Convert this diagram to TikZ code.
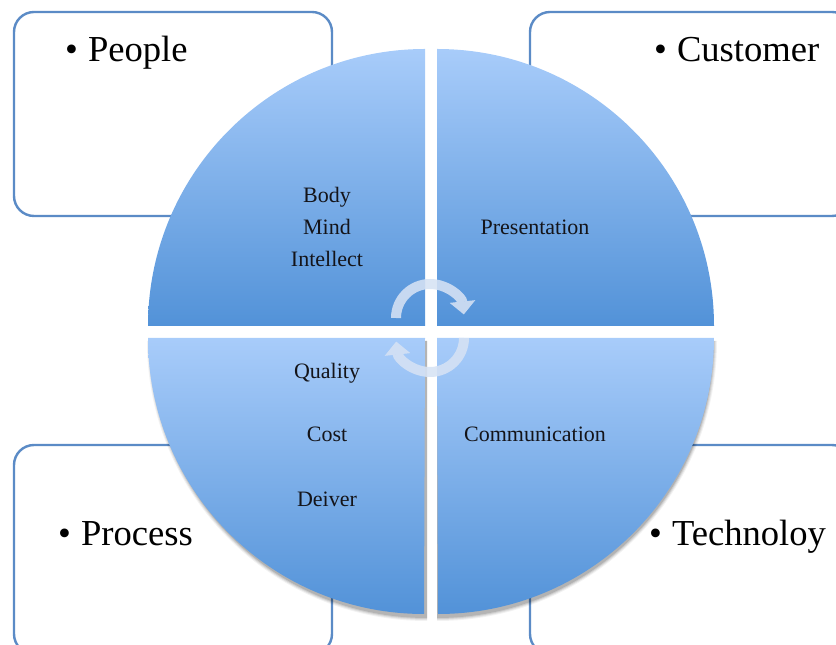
\documentclass[tikz,border=0pt]{standalone}
\usepackage{fontspec}
\setmainfont{Liberation Serif}
\usetikzlibrary{arrows.meta}
\definecolor{qtop}{RGB}{168,204,250}
\definecolor{qbot}{RGB}{82,146,216}
\definecolor{boxline}{RGB}{91,139,198}
\definecolor{arrowc}{RGB}{214,226,244}
\definecolor{qtext}{RGB}{20,20,25}
\tikzset{
  cornerbox/.style={draw=boxline, line width=2.4pt, rounded corners=20pt, fill=white},
  quad/.style={top color=qtop, bottom color=qbot},
  smalltxt/.style={anchor=base, inner sep=0pt, text=qtext, font=\fontsize{22}{26}\selectfont},
  bigtxt/.style={anchor=base west, inner sep=0pt, text=black, font=\fontsize{36.6}{40}\selectfont},
  cyclearrow/.style={draw=arrowc, line width=10pt, -{Triangle[width=25pt,length=13pt]}},
}
\begin{document}
\begin{tikzpicture}[x=1pt,y=1pt]
\useasboundingbox (0,0) rectangle (836,645);
% corner boxes
\draw[cornerbox] (14,633) rectangle (332,429);
\draw[cornerbox] (530,633) rectangle (852,429);
\draw[cornerbox] (14,200) rectangle (332,-9);
\draw[cornerbox] (530,200) rectangle (852,-9);
% shadows of lower quadrants
\foreach \r/\o in {280/0.05,279/0.07,278/0.09,277/0.12}{
  \fill[black, opacity=\o] (427,304) -- ++(-\r,0) arc[start angle=180,end angle=270,radius=\r] -- cycle;
  \fill[black, opacity=\o] (437,304) -- ++(\r,0) arc[start angle=0,end angle=-90,radius=\r] -- cycle;
}
% quadrants
\shade[quad] (425,319) -- ++(-277,0) arc[start angle=180,end angle=90,radius=277] -- cycle;
\shade[quad] (437,319) -- ++(0,277) arc[start angle=90,end angle=0,radius=277] -- cycle;
\shade[quad] (425,307) -- ++(-277,0) arc[start angle=180,end angle=270,radius=276] -- cycle;
\shade[quad] (437,307) -- ++(277,0) arc[start angle=0,end angle=-90,radius=276] -- cycle;
% quadrant texts
\node[smalltxt] (body) at (327,442) {Body};
\node[smalltxt] (mind) at (327,410) {Mind};
\node[smalltxt] (intellect) at (327,378) {Intellect};
\node[smalltxt] (presentation) at (535,410) {Presentation};
\node[smalltxt] (quality) at (327,266) {Quality};
\node[smalltxt] (cost) at (327,203) {Cost};
\node[smalltxt] (deiver) at (327,138) {Deiver};
\node[smalltxt] (communication) at (535,203) {Communication};
% corner labels
\node[bigtxt] (people) at (65,583) {•\hspace{10pt}People};
\node[bigtxt] (customer) at (654,583) {•\hspace{10pt}Customer};
\node[bigtxt] (process) at (58,99) {•\hspace{10pt}Process};
\node[bigtxt] (technoloy) at (649,99) {•\hspace{10pt}Technoloy};
% cycle arrows
\coordinate (a1) at (396,327);
\coordinate (a2) at (464,307);
\begin{scope}[transparency group, opacity=0.88]
\draw[cyclearrow] (a1) arc[start angle=180,end angle=6,radius=34];
\draw[cyclearrow] (a2) arc[start angle=0,end angle=-174,radius=34];
\end{scope}
\end{tikzpicture}
\end{document}
